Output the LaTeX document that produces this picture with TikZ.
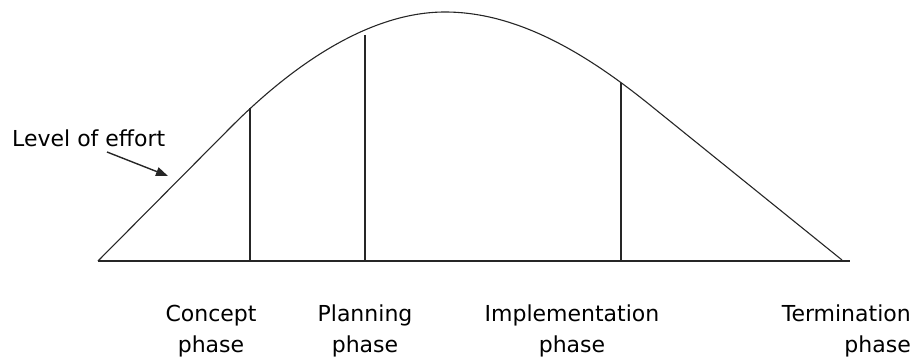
\documentclass[tikz,border=0pt]{standalone}
\usepackage{fontspec}
\setmainfont{DejaVu Sans}
\usetikzlibrary{arrows.meta}
\begin{document}
\begin{tikzpicture}[x=1pt,y=-1pt,
  lbl/.style={font=\fontsize{22}{31}\selectfont, align=center, inner sep=0pt},
  ln/.style={line width=1.2pt, black!85}]
\useasboundingbox (0,0) rectangle (913,361);
% baseline
\coordinate (b0) at (98,261);
\coordinate (b1) at (850,261);
\draw[ln] (b0) -- (b1);
% effort curve
\draw[ln, line width=1.1pt] (98,261) -- (230,128)
  .. controls (300,57.5) and (375,12) .. (445,12)
  .. controls (520,12) and (590,56.6) .. (650,105) -- (842,260);
% phase dividers
\coordinate (v1t) at (250,108); \coordinate (v1b) at (250,261);
\coordinate (v2t) at (365,35);  \coordinate (v2b) at (365,261);
\coordinate (v3t) at (621,83);  \coordinate (v3b) at (621,261);
\draw[ln] (v1t) -- (v1b);
\draw[ln] (v2t) -- (v2b);
\draw[ln] (v3t) -- (v3b);
% label and arrow
\node[lbl, anchor=west] (effort) at (12,138) {Level of effort};
\coordinate (atip) at (168,176);
\draw[ln, line width=1.4pt, -{Triangle[length=12pt,width=9pt]}] (107,152) -- (atip);
% phase labels
\node[lbl] (concept) at (211,331) {Concept\\phase};
\node[lbl] (planning) at (365,331) {Planning\\phase};
\node[lbl] (impl) at (572,331) {Implementation\\phase};
\node[lbl, align=right, anchor=east] (term) at (911,331) {Termination\\phase};
\end{tikzpicture}
\end{document}
